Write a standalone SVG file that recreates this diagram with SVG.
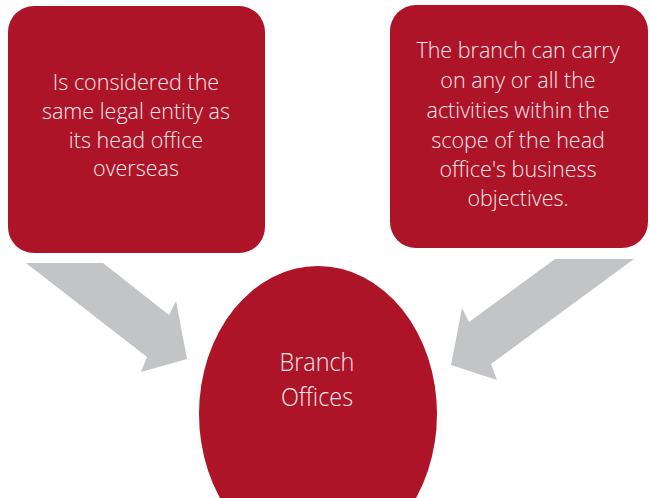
<svg xmlns="http://www.w3.org/2000/svg" width="650" height="498" viewBox="0 0 650 498">
<style>
.box{fill:#ae1428;}
.arrow{fill:#c3c4c6;}
.t{font-family:"Open Sans","Liberation Sans",sans-serif;font-weight:300;fill:#f6e8ea;text-anchor:middle;}
.s{font-size:21.5px;}
.b{font-size:26px;}
</style>
<rect width="650" height="498" fill="#ffffff"/>
<g id="connectors">
<polygon class="arrow" points="26,263 103,263 169,315 176,301 187,359 141,372 147,357"/>
<polygon class="arrow" points="555,259 634,259 491,364 497,380 451,365 462,308 469,322"/>
</g>
<g id="node-left">
<rect class="box" x="8" y="6" width="257" height="247" rx="26" ry="26"/>
<text class="t s" x="136" y="90">Is considered the</text>
<text class="t s" x="136" y="119">same legal entity as</text>
<text class="t s" x="136" y="148">its head office</text>
<text class="t s" x="136" y="176">overseas</text>
</g>
<g id="node-right">
<rect class="box" x="390" y="5" width="258" height="243" rx="26" ry="26"/>
<text class="t s" x="518" y="58">The branch can carry</text>
<text class="t s" x="518" y="88">on any or all the</text>
<text class="t s" x="518" y="118">activities within the</text>
<text class="t s" x="518" y="148">scope of the head</text>
<text class="t s" x="518" y="177">office's business</text>
<text class="t s" x="518" y="206">objectives.</text>
</g>
<g id="node-center">
<ellipse class="box" cx="318" cy="414" rx="119" ry="148"/>
<g transform="translate(317,0) scale(0.9,1)">
<text class="t b" x="0" y="371">Branch</text>
<text class="t b" x="0" y="406">Offices</text>
</g>
</g>
</svg>
